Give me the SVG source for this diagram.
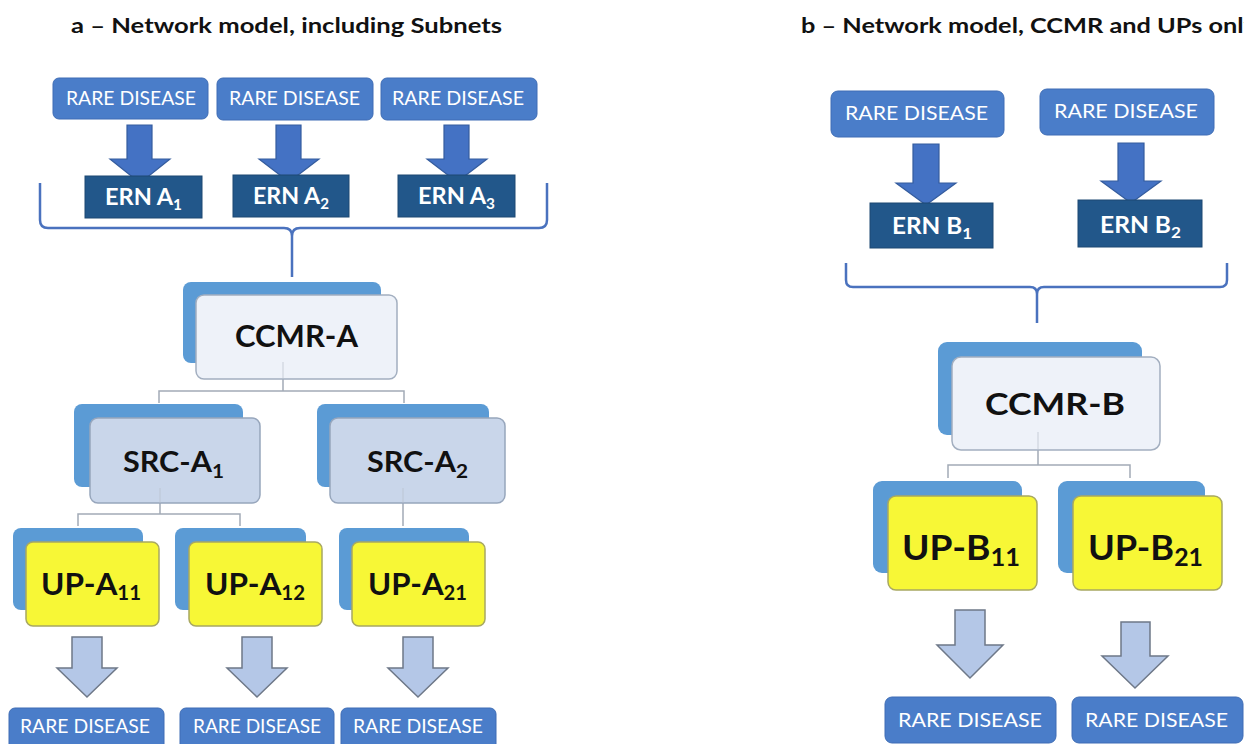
<svg xmlns="http://www.w3.org/2000/svg" width="1244" height="744" viewBox="0 0 1244 744">
<style>
text{font-family:Lato,"Liberation Sans",sans-serif}
.title{font-weight:bold;font-size:20px;fill:#111}
.rd rect{fill:#4A7DC9;stroke:#3F6DB5;stroke-width:1}
.rd text{fill:#fff;font-size:20px}
.ern rect{fill:#22578A;stroke:#1C4872;stroke-width:1}
.ern text{fill:#fff;font-size:23px;font-weight:bold}
.back{fill:#5B9BD5}
.fw{fill:#EEF2F9;stroke:#A3AFC0;stroke-width:1.5}
.fs{fill:#C9D6EA;stroke:#97A6BC;stroke-width:1.5}
.fy{fill:#F7F736;stroke:#A8A862;stroke-width:1.5}
.lbl{fill:#111;font-weight:bold}
.darr{fill:#4472C4;stroke:#345C9E;stroke-width:1.2}
.larr{fill:#B4C7E7;stroke:#6E7888;stroke-width:1.5}
.brace{fill:none;stroke:#4A72BE;stroke-width:2.5}
.conn{fill:none;stroke:#A2AAB6;stroke-width:1.5}
.faint{stroke:#B8C0CC;stroke-width:1;opacity:.7}
</style>

<text class="title" x="71" y="33" textLength="431" lengthAdjust="spacingAndGlyphs">a – Network model, including Subnets</text>
<text class="title" x="801" y="33" textLength="456" lengthAdjust="spacingAndGlyphs">b – Network model, CCMR and UPs only</text>

<g id="connectors">
  <path class="brace" d="M40,183 V220 Q40,228 48,228 H284 Q292,228 292,236 V277 M292,236 Q292,228 300,228 H539 Q547,228 547,220 V183"/>
  <path class="brace" d="M846,263 V280 Q846,287 853,287 H1030 Q1037,287 1037,294 V323 M1037,294 Q1037,287 1044,287 H1220 Q1227,287 1227,280 V263"/>
  <path class="conn" d="M283,379 V391 M159,403 V391 H404 V403"/>
  <path class="conn" d="M160,503 V514 M78,526 V514 H240 V526"/>
  <path class="conn" d="M403,503 V526"/>
  <path class="conn" d="M1038,450 V465 M948,478 V465 H1130 V478"/>
  <polygon class="darr" points="127,125 152,125 152,159 170,159 140,183 110,159 127,159"/>
  <polygon class="darr" points="276,125 301,125 301,159 319,159 289,182 259,159 276,159"/>
  <polygon class="darr" points="444,125 469,125 469,159 487,159 457,182 427,159 444,159"/>
  <polygon class="darr" points="913,144 939,144 939,183 956,183 926,205 896,183 913,183"/>
  <polygon class="darr" points="1118,143 1144,143 1144,181 1161,181 1131,203 1101,181 1118,181"/>
  <polygon class="larr" points="72,637 102,637 102,668 117,668 87,697 57,668 72,668"/>
  <polygon class="larr" points="242,637 272,637 272,668 287,668 257,697 227,668 242,668"/>
  <polygon class="larr" points="403,637 433,637 433,668 448,668 418,697 388,668 403,668"/>
  <polygon class="larr" points="955,610 985,610 985,645 1003,645 970,678 937,645 955,645"/>
  <polygon class="larr" points="1121,622 1150,622 1150,656 1168,656 1135,688 1102,656 1121,656"/>
</g>

<g id="rd-a1" class="rd"><rect x="53" y="78" width="155" height="41" rx="6"/><text x="66" y="105" textLength="130" lengthAdjust="spacingAndGlyphs">RARE DISEASE</text></g>
<g id="rd-a2" class="rd"><rect x="217" y="78" width="156" height="42" rx="6"/><text x="229" y="105" textLength="131" lengthAdjust="spacingAndGlyphs">RARE DISEASE</text></g>
<g id="rd-a3" class="rd"><rect x="381" y="78" width="156" height="42" rx="6"/><text x="392" y="105" textLength="132" lengthAdjust="spacingAndGlyphs">RARE DISEASE</text></g>

<g id="ern-a1" class="ern"><rect x="85" y="176" width="117" height="42"/><text x="105" y="205" textLength="77" lengthAdjust="spacingAndGlyphs">ERN A<tspan dy="5" font-size="15">1</tspan></text></g>
<g id="ern-a2" class="ern"><rect x="233" y="175" width="116" height="42"/><text x="253" y="204" textLength="76" lengthAdjust="spacingAndGlyphs">ERN A<tspan dy="5" font-size="15">2</tspan></text></g>
<g id="ern-a3" class="ern"><rect x="398" y="175" width="117" height="42"/><text x="418" y="204" textLength="77" lengthAdjust="spacingAndGlyphs">ERN A<tspan dy="5" font-size="15">3</tspan></text></g>

<g id="ccmr-a">
  <rect class="back" x="183" y="282" width="198" height="81" rx="8"/>
  <rect class="fw" x="196" y="295" width="201" height="84" rx="8"/>
  <line class="faint" x1="283" y1="362" x2="283" y2="379"/>
  <text class="lbl" x="235" y="347" font-size="31" textLength="123" lengthAdjust="spacingAndGlyphs">CCMR-A</text>
</g>

<g id="src-a1">
  <rect class="back" x="74" y="404" width="169" height="83" rx="8"/>
  <rect class="fs" x="90" y="418" width="170" height="85" rx="8"/>
  <line class="faint" x1="160" y1="488" x2="160" y2="503"/>
  <text class="lbl" x="123" y="472" font-size="28" textLength="101" lengthAdjust="spacingAndGlyphs">SRC-A<tspan dy="6" font-size="19">1</tspan></text>
</g>
<g id="src-a2">
  <rect class="back" x="317" y="404" width="172" height="83" rx="8"/>
  <rect class="fs" x="330" y="418" width="175" height="85" rx="8"/>
  <line class="faint" x1="403" y1="488" x2="403" y2="503"/>
  <text class="lbl" x="367" y="472" font-size="28" textLength="101" lengthAdjust="spacingAndGlyphs">SRC-A<tspan dy="6" font-size="19">2</tspan></text>
</g>

<g id="up-a11">
  <rect class="back" x="13" y="528" width="130" height="82" rx="8"/>
  <rect class="fy" x="26" y="542" width="133" height="84" rx="7"/>
  <text class="lbl" x="41" y="595" font-size="31" textLength="100" lengthAdjust="spacingAndGlyphs">UP-A<tspan dy="5" font-size="20">11</tspan></text>
</g>
<g id="up-a12">
  <rect class="back" x="175" y="528" width="131" height="82" rx="8"/>
  <rect class="fy" x="189" y="542" width="133" height="84" rx="7"/>
  <text class="lbl" x="205" y="595" font-size="31" textLength="100" lengthAdjust="spacingAndGlyphs">UP-A<tspan dy="5" font-size="20">12</tspan></text>
</g>
<g id="up-a21">
  <rect class="back" x="339" y="528" width="130" height="82" rx="8"/>
  <rect class="fy" x="352" y="542" width="133" height="84" rx="7"/>
  <text class="lbl" x="368" y="595" font-size="31" textLength="99" lengthAdjust="spacingAndGlyphs">UP-A<tspan dy="5" font-size="20">21</tspan></text>
</g>

<g id="rd-a11" class="rd"><rect x="9" y="708" width="155" height="44" rx="6"/><text x="20" y="733" font-size="21" textLength="130" lengthAdjust="spacingAndGlyphs">RARE DISEASE</text></g>
<g id="rd-a12" class="rd"><rect x="180" y="708" width="154" height="44" rx="6"/><text x="193" y="733" font-size="21" textLength="128" lengthAdjust="spacingAndGlyphs">RARE DISEASE</text></g>
<g id="rd-a21" class="rd"><rect x="341" y="708" width="155" height="44" rx="6"/><text x="353" y="733" font-size="21" textLength="130" lengthAdjust="spacingAndGlyphs">RARE DISEASE</text></g>

<g id="rd-b1" class="rd"><rect x="831" y="91" width="173" height="46" rx="7"/><text x="845" y="120" font-size="21" textLength="143" lengthAdjust="spacingAndGlyphs">RARE DISEASE</text></g>
<g id="rd-b2" class="rd"><rect x="1040" y="89" width="174" height="46" rx="7"/><text x="1054" y="118" font-size="21" textLength="144" lengthAdjust="spacingAndGlyphs">RARE DISEASE</text></g>

<g id="ern-b1" class="ern"><rect x="870" y="203" width="123" height="45"/><text x="892" y="234" font-size="24" textLength="80" lengthAdjust="spacingAndGlyphs">ERN B<tspan dy="5" font-size="16">1</tspan></text></g>
<g id="ern-b2" class="ern"><rect x="1078" y="200" width="124" height="47"/><text x="1100" y="233" font-size="24" textLength="81" lengthAdjust="spacingAndGlyphs">ERN B<tspan dy="5" font-size="16">2</tspan></text></g>

<g id="ccmr-b">
  <rect class="back" x="938" y="342" width="204" height="93" rx="9"/>
  <rect class="fw" x="952" y="357" width="208" height="93" rx="9"/>
  <line class="faint" x1="1038" y1="432" x2="1038" y2="450"/>
  <text class="lbl" x="985" y="415" font-size="31" textLength="140" lengthAdjust="spacingAndGlyphs">CCMR-B</text>
</g>

<g id="up-b11">
  <rect class="back" x="873" y="481" width="149" height="92" rx="9"/>
  <rect class="fy" x="888" y="496" width="149" height="94" rx="8"/>
  <text class="lbl" x="902" y="560" font-size="35" textLength="118" lengthAdjust="spacingAndGlyphs">UP-B<tspan dy="6" font-size="24">11</tspan></text>
</g>
<g id="up-b21">
  <rect class="back" x="1058" y="481" width="147" height="92" rx="9"/>
  <rect class="fy" x="1073" y="496" width="149" height="94" rx="8"/>
  <text class="lbl" x="1088" y="560" font-size="35" textLength="115" lengthAdjust="spacingAndGlyphs">UP-B<tspan dy="6" font-size="24">21</tspan></text>
</g>

<g id="rd-b11" class="rd"><rect x="885" y="697" width="171" height="46" rx="7"/><text x="898" y="727" font-size="23" textLength="144" lengthAdjust="spacingAndGlyphs">RARE DISEASE</text></g>
<g id="rd-b21" class="rd"><rect x="1072" y="697" width="171" height="46" rx="7"/><text x="1085" y="727" font-size="23" textLength="143" lengthAdjust="spacingAndGlyphs">RARE DISEASE</text></g>
</svg>
